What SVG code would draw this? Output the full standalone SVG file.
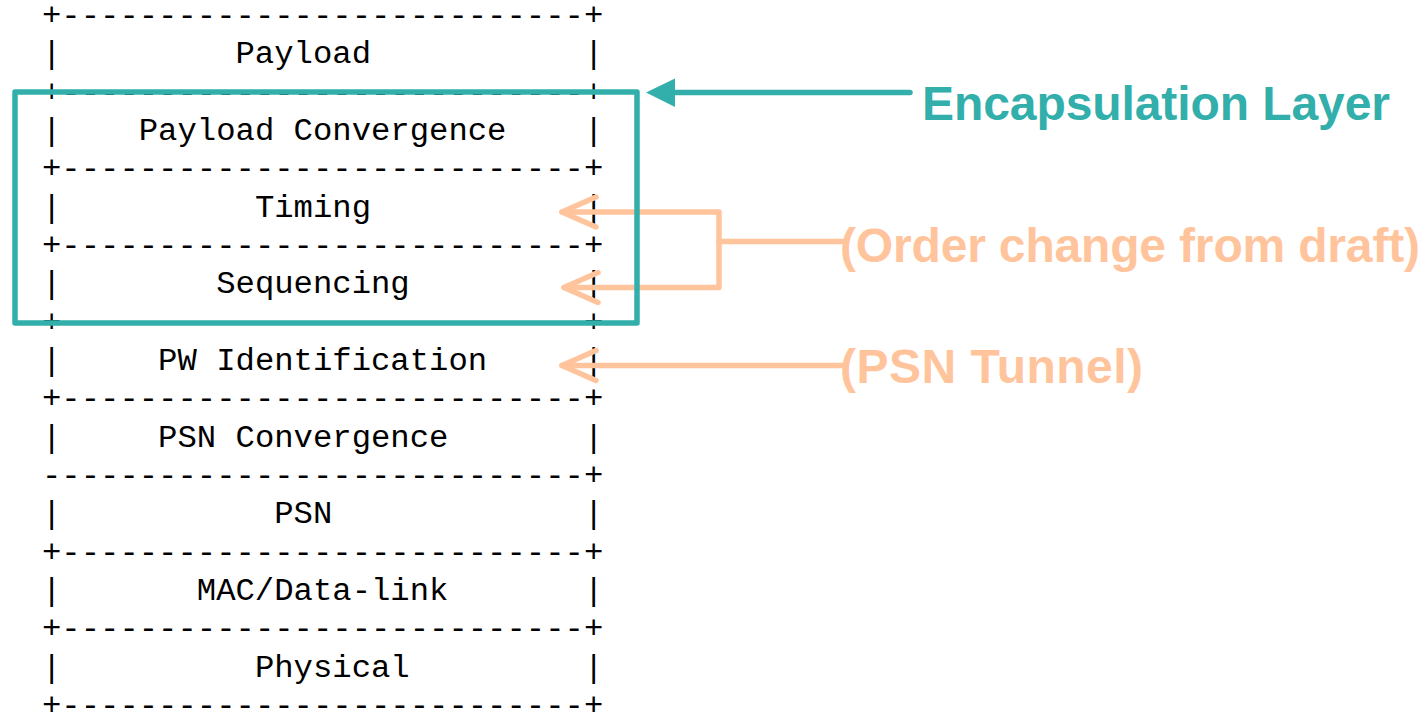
<svg xmlns="http://www.w3.org/2000/svg" xmlns:xlink="http://www.w3.org/1999/xlink" width="1428" height="712" viewBox="0 0 1428 712">
  <style>
    .mono { font-family: "Liberation Mono", "Courier New", monospace; font-size: 32.25px; fill: #000; }
    .teal-label { font-family: "Liberation Sans", Arial, sans-serif; font-weight: bold; font-size: 48px; fill: #32aeab; }
    .peach-label { font-family: "Liberation Sans", Arial, sans-serif; font-weight: bold; font-size: 48px; fill: #ffc49c; }
    .peach { fill: none; stroke: #ffc49c; stroke-width: 5.5; stroke-linecap: round; stroke-linejoin: round; }
    .teal { fill: none; stroke: #32aeab; stroke-width: 5.5; stroke-linecap: round; stroke-linejoin: round; }
  </style>
  <defs>
    <!-- open chevron arrowhead, tip at origin, pointing left -->
    <polyline id="chevron" class="peach" points="34,-15 0,0 34,15"/>
  </defs>
  <rect width="1428" height="712" fill="#fff"/>

  <!-- protocol stack rules (ASCII separators) -->
  <g id="stack-rules" class="mono">
    <text x="42" y="24.96">+---------------------------+</text>
    <text x="42" y="101.64">+---------------------------+</text>
    <text x="42" y="178.32">+---------------------------+</text>
    <text x="42" y="255.00">+---------------------------+</text>
    <text x="42" y="331.68">+---------------------------+</text>
    <text x="42" y="408.36">+---------------------------+</text>
    <text x="42" y="485.04">----------------------------+</text>
    <text x="42" y="561.72">+---------------------------+</text>
    <text x="42" y="638.40">+---------------------------+</text>
    <text x="42" y="714.5">+---------------------------+</text>
  </g>

  <!-- protocol stack layers -->
  <g id="layer-payload" class="mono">
    <text x="42" y="63.30">|</text><text x="235.53" y="63.30">Payload</text><text x="583.88" y="63.30">|</text>
  </g>
  <g id="layer-payload-convergence" class="mono">
    <text x="42" y="139.98">|</text><text x="138.77" y="139.98">Payload Convergence</text><text x="583.88" y="139.98">|</text>
  </g>
  <g id="layer-timing" class="mono">
    <text x="42" y="216.66">|</text><text x="254.88" y="216.66">Timing</text><text x="583.88" y="216.66">|</text>
  </g>
  <g id="layer-sequencing" class="mono">
    <text x="42" y="293.34">|</text><text x="216.18" y="293.34">Sequencing</text><text x="583.88" y="293.34">|</text>
  </g>
  <g id="layer-pw-identification" class="mono">
    <text x="42" y="370.02">|</text><text x="158.12" y="370.02">PW Identification</text><text x="583.88" y="370.02">|</text>
  </g>
  <g id="layer-psn-convergence" class="mono">
    <text x="42" y="446.70">|</text><text x="158.12" y="446.70">PSN Convergence</text><text x="583.88" y="446.70">|</text>
  </g>
  <g id="layer-psn" class="mono">
    <text x="42" y="523.38">|</text><text x="274.24" y="523.38">PSN</text><text x="583.88" y="523.38">|</text>
  </g>
  <g id="layer-mac" class="mono">
    <text x="42" y="600.06">|</text><text x="196.82" y="600.06">MAC/Data-link</text><text x="583.88" y="600.06">|</text>
  </g>
  <g id="layer-physical" class="mono">
    <text x="42" y="676.74">|</text><text x="254.88" y="676.74">Physical</text><text x="583.88" y="676.74">|</text>
  </g>

  <!-- connectors -->
  <g id="connectors">
    <!-- bracket pointing at Timing and Sequencing -->
    <path class="peach" d="M562,212 H719 V287.5 H564"/>
    <path class="peach" d="M719,241.5 H843"/>
    <use xlink:href="#chevron" x="562" y="212"/>
    <use xlink:href="#chevron" x="564" y="287.5"/>
    <!-- PSN tunnel pointer -->
    <path class="peach" d="M562,365.5 H843"/>
    <use xlink:href="#chevron" x="562" y="365.5"/>
    <!-- encapsulation layer pointer -->
    <path class="teal" d="M672,92.5 H910"/>
    <polygon points="646,92.5 675,78.5 675,107" fill="#32aeab"/>
  </g>

  <!-- encapsulation layer box -->
  <g id="encapsulation-box">
    <rect class="teal" x="15" y="92" width="622" height="231"/>
  </g>

  <!-- labels -->
  <g id="label-encapsulation">
    <text class="teal-label" x="922" y="119.5" textLength="468">Encapsulation Layer</text>
  </g>
  <g id="label-order-change">
    <text class="peach-label" x="840" y="261.5" textLength="580">(Order change from draft)</text>
  </g>
  <g id="label-psn-tunnel">
    <text class="peach-label" x="840" y="383" textLength="303">(PSN Tunnel)</text>
  </g>
</svg>
